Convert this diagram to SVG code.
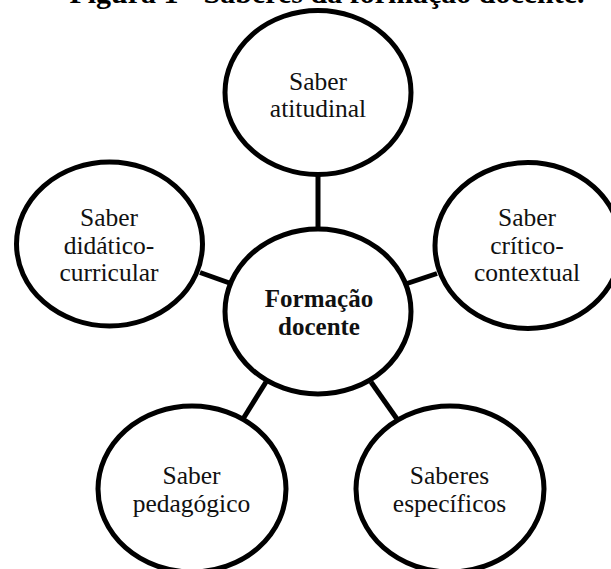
<svg xmlns="http://www.w3.org/2000/svg" width="611" height="569" viewBox="0 0 611 569">
<style>
.node ellipse{fill:#fff;stroke:#000;stroke-width:5}
.lbl{font-family:"Liberation Serif","Times New Roman",serif;font-size:25.5px;fill:#111;text-anchor:middle}
.bold{font-weight:bold;font-size:25px}
#connectors line{stroke:#000;stroke-width:5}
.title{font-family:"Liberation Serif","Times New Roman",serif;font-size:30px;font-weight:bold;text-anchor:middle;fill:#000}
</style>
<rect width="611" height="569" fill="#fff"/>
<text class="title" x="327" y="3">Figura 1 - Saberes da formação docente.</text>
<g id="connectors">
<line x1="318" y1="172" x2="318" y2="231"/>
<line x1="200" y1="272.5" x2="229.5" y2="283"/>
<line x1="407" y1="283.5" x2="437" y2="273.5"/>
<line x1="266" y1="382" x2="243" y2="419"/>
<line x1="371" y1="382" x2="397" y2="419"/>
</g>
<g id="n-atitudinal" class="node">
<ellipse cx="318" cy="92.5" rx="93" ry="82"/>
<text class="lbl" x="318" y="89.5">Saber</text>
<text class="lbl" x="318" y="117">atitudinal</text>
</g>
<g id="n-didatico" class="node">
<ellipse cx="109.5" cy="244" rx="93" ry="82"/>
<text class="lbl" x="109" y="226">Saber</text>
<text class="lbl" x="109" y="253.5">didático-</text>
<text class="lbl" x="109" y="281">curricular</text>
</g>
<g id="n-critico" class="node">
<ellipse cx="528" cy="245.5" rx="93" ry="83"/>
<text class="lbl" x="527" y="226">Saber</text>
<text class="lbl" x="527" y="253.5">crítico-</text>
<text class="lbl" x="527" y="281">contextual</text>
</g>
<g id="n-formacao" class="node">
<ellipse cx="318" cy="311.5" rx="93" ry="82.5"/>
<text class="lbl bold" x="319" y="307">Formação</text>
<text class="lbl bold" x="319" y="335">docente</text>
</g>
<g id="n-pedagogico" class="node">
<ellipse cx="192" cy="489" rx="94" ry="83"/>
<text class="lbl" x="191.5" y="484">Saber</text>
<text class="lbl" x="191.5" y="511.5">pedagógico</text>
</g>
<g id="n-especificos" class="node">
<ellipse cx="450" cy="489" rx="94" ry="83"/>
<text class="lbl" x="449.5" y="484">Saberes</text>
<text class="lbl" x="449.5" y="511.5">específicos</text>
</g>
</svg>
